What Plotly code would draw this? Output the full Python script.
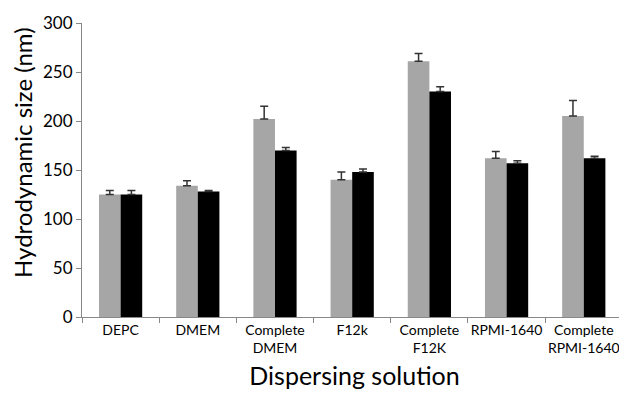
import plotly.graph_objects as go

categories = ["DEPC", "DMEM", "Complete<br>DMEM", "F12k", "Complete<br>F12K", "RPMI-1640", "Complete<br>RPMI-1640"]
gray_values = [125, 134, 202, 140, 261, 162, 205]
gray_err = [4, 5, 13, 8, 8, 7, 16]
black_values = [125, 128, 170, 148, 230, 157, 162]
black_err = [4, 1, 3, 3, 5, 2.5, 2]
y_ticks = [0, 50, 100, 150, 200, 250, 300]

FONT = "Lato"

fig = go.Figure()
fig.add_trace(go.Bar(
    x=categories, y=gray_values, name="A",
    marker=dict(color="#a6a6a6", line=dict(width=0)),
    error_y=dict(type="data", symmetric=False, array=gray_err, arrayminus=[0]*7,
                 color="#333333", thickness=1.5, width=4),
))
fig.add_trace(go.Bar(
    x=categories, y=black_values, name="B",
    marker=dict(color="#000000", line=dict(width=0)),
    error_y=dict(type="data", symmetric=False, array=black_err, arrayminus=[0]*7,
                 color="#333333", thickness=1.5, width=4),
))

# page body has an 8px default margin, so the figure is 8px smaller
fig.update_layout(
    width=619, height=390,
    margin=dict(l=74, r=0, t=15, b=81),
    barmode="group", bargap=0.44, bargroupgap=0,
    showlegend=False,
    plot_bgcolor="white", paper_bgcolor="white",
    font=dict(family=FONT, color="#000000"),
    annotations=[dict(
        text="Hydrodynamic size (nm)", textangle=-90,
        xref="paper", yref="paper", x=0, y=0.558, xanchor="center", yanchor="middle",
        xshift=-59, showarrow=False, font=dict(size=24, family=FONT, color="#000000"),
    )],
)
fig.update_xaxes(
    type="category", tickson="boundaries", ticks="outside", ticklen=5,
    tickcolor="#888888", showline=True, linecolor="#888888", linewidth=1,
    tickangle=0, tickfont=dict(size=14, family=FONT), automargin=False,
    title=dict(text="Dispersing solution", font=dict(size=25, family=FONT), standoff=12),
    showgrid=False, range=[-0.5, 6.56],
)
fig.update_yaxes(
    range=[0, 300], tickvals=y_ticks, ticks="outside", ticklen=5,
    tickcolor="#888888", showline=True, linecolor="#888888", linewidth=1,
    tickfont=dict(size=17, family=FONT), automargin=False,
    showgrid=False, zeroline=False,
)

fig.write_html("out.html")
